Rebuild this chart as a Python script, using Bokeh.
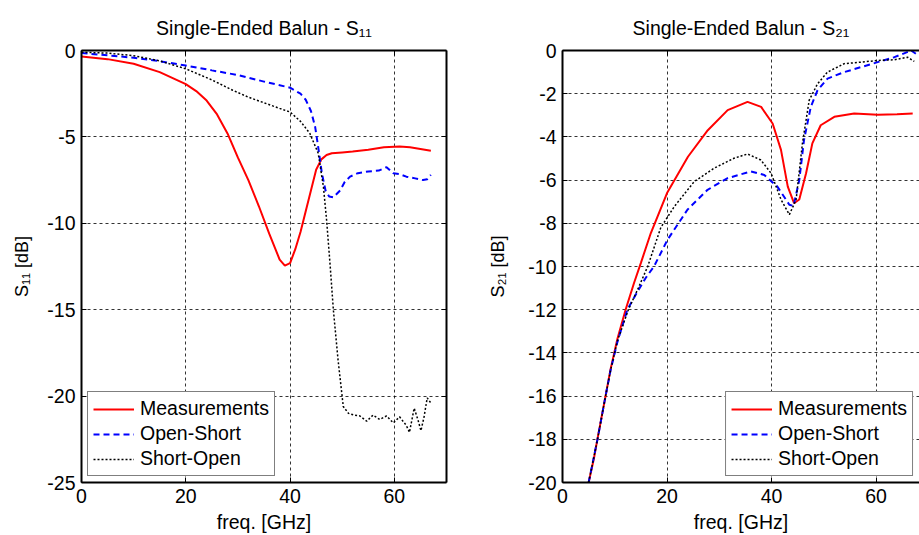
from bokeh.plotting import figure
from bokeh.layouts import row
from bokeh.models import (LinearAxis, Range1d, FixedTicker,
                          CustomJSTickFormatter, Legend, LegendItem)
from bokeh.embed import file_html
from bokeh.resources import INLINE

FONT = "Liberation Sans"

# ---------------- data: S11 ----------------
s11_meas_f = [0, 5, 10, 15, 20, 22, 24, 26, 28, 30, 32, 34, 36, 38, 39, 40, 41, 42, 43, 44,
              45, 46, 47, 48, 50, 52, 55, 58, 61, 63, 65, 67]
s11_meas = [-0.35, -0.5, -0.77, -1.25, -1.95, -2.35, -2.9, -3.7, -4.8, -6.2, -7.5, -9.0, -10.6,
            -12.1, -12.45, -12.3, -11.5, -10.5, -9.3, -8.1, -6.9, -6.3, -6.05, -5.95, -5.9,
            -5.85, -5.75, -5.6, -5.55, -5.6, -5.7, -5.8]

s11_os_f = [0, 5, 10, 15, 20, 25, 30, 35, 40, 42, 43, 44, 44.8, 45.4, 46.1, 46.8, 47.5, 48.3,
            49.6, 50.5, 51.5, 53, 55, 57, 58.5, 59.8, 61, 62.3, 64, 65.5, 66.3, 67]
s11_os = [-0.15, -0.28, -0.42, -0.62, -0.87, -1.15, -1.42, -1.8, -2.15, -2.5, -2.85, -3.5,
          -4.4, -5.6, -7.1, -8.1, -8.45, -8.5, -8.1, -7.6, -7.3, -7.1, -7.0, -6.95, -6.75,
          -7.1, -7.15, -7.3, -7.4, -7.5, -7.45, -7.2]

s11_so_f = [0, 5, 10, 15, 20, 25, 29, 32, 35.5, 38, 40, 42, 43.8, 45.4, 46.4, 47, 47.7, 48.3,
            49.2, 50.2, 51.2, 52.3, 53.4, 54.7, 55.9, 57.2, 58.5, 59.8, 61.0, 62.3, 62.9,
            63.8, 64.5, 65.1, 65.7, 66.3, 67.0]
s11_so = [-0.1, -0.15, -0.3, -0.6, -1.06, -1.7, -2.3, -2.7, -3.08, -3.35, -3.56, -4.1, -4.8,
          -5.95, -7.9, -9.8, -12.5, -15.0, -17.9, -20.6, -21.0, -21.1, -21.15, -21.45, -21.1,
          -21.35, -21.15, -21.55, -21.2, -21.7, -22.1, -20.7, -21.35, -22.0, -21.2, -20.1,
          -20.4]

# ---------------- data: S21 ----------------
s21_meas_f = [5, 6, 6.7, 8, 9.2, 10.5, 12.1, 13.7, 15, 16.9, 20, 24, 27.8, 31.6, 35.4, 38,
              40.2, 41.8, 43.1, 44.3, 45.3, 46.6, 47.8, 49.4, 52, 55.8, 60.3, 64, 67]
s21_meas = [-20, -18.9, -17.97, -16.3, -14.75, -13.36, -11.98, -10.75, -9.83, -8.45, -6.6,
            -4.92, -3.69, -2.76, -2.38, -2.61, -3.38, -4.6, -6.3, -7.07, -6.9, -5.68, -4.3,
            -3.46, -3.07, -2.92, -2.97, -2.95, -2.92]

s21_os_f = [5, 6.7, 8, 9.2, 10.5, 12.4, 14.5, 16, 17.5, 20.1, 23.9, 27.75, 31.6, 36, 38.6,
            41.1, 43.4, 44.2, 45.3, 46.2, 47.5, 48.8, 50.7, 53.9, 57.1, 60.3, 63.5, 66.7, 67.6]
s21_os = [-20, -18.0, -16.3, -14.8, -13.5, -12.0, -11.1, -10.5, -10.0, -8.76, -7.37, -6.45,
          -5.91, -5.6, -5.76, -6.3, -7.14, -7.2, -6.0, -4.15, -2.61, -1.84, -1.3, -1.0,
          -0.77, -0.54, -0.31, 0.0, -0.15]

s21_so_f = [5, 6.7, 8, 9.2, 10.5, 12.6, 14.5, 16.3, 18.8, 21.4, 25.2, 29, 32.8, 35.4, 37.95,
            39.9, 41.8, 43.4, 44.7, 45.9, 47.2, 48.8, 50.7, 53.9, 57.1, 60.3, 63.5, 66, 67.3]
s21_so = [-20, -18.0, -16.3, -14.8, -13.45, -12.0, -11.0, -10.0, -8.2, -7.22, -6.07, -5.45,
          -4.99, -4.79, -5.07, -5.68, -6.9, -7.6, -6.9, -4.3, -2.3, -1.54, -1.0, -0.61, -0.54,
          -0.46, -0.43, -0.31, -0.5]

x_ticks = [0, 20, 40, 60]
s11_y_ticks = [0, -5, -10, -15, -20, -25]
s21_y_ticks = [0, -2, -4, -6, -8, -10, -12, -14, -16, -18, -20]
legend_labels = ["Measurements", "Open-Short", "Short-Open"]
titles = ["Single-Ended Balun - S\u2081\u2081", "Single-Ended Balun - S\u2082\u2081"]
y_labels = ["S\u2081\u2081 [dB]", "S\u2082\u2081 [dB]"]
x_label = "freq. [GHz]"


def style_axis(ax, ticks, show_labels=True, standoff=6):
    ax.ticker = FixedTicker(ticks=ticks)
    ax.axis_line_color = "black"
    ax.axis_line_width = 2
    ax.major_tick_line_color = "black"
    ax.major_tick_line_width = 1
    ax.major_tick_in = 5
    ax.major_tick_out = 0
    ax.minor_tick_line_color = None
    ax.major_label_text_font = FONT
    ax.major_label_text_font_size = "19.5px"
    ax.major_label_text_color = "black"
    ax.major_label_standoff = standoff
    ax.axis_label_text_font = FONT
    ax.axis_label_text_font_style = "normal"
    ax.axis_label_text_color = "black"
    if show_labels:
        ax.formatter = CustomJSTickFormatter(code="return tick.toString()")
    else:
        ax.formatter = CustomJSTickFormatter(code="return ''")


def make_fig(width, mbl, mbr, x_end, y_start, y_ticks, right_axis, title, ylab, ylab_standoff):
    p = figure(width=width, height=535, x_range=Range1d(0, x_end),
               y_range=Range1d(y_start, 0), output_backend="svg", toolbar_location=None,
               min_border_left=mbl, min_border_right=mbr, min_border_top=50,
               min_border_bottom=52, title=title)
    p.title.align = "center"
    p.title.text_font = FONT
    p.title.text_font_size = "19.5px"
    p.title.text_font_style = "normal"
    p.title.text_color = "black"
    p.title.standoff = 24
    p.outline_line_color = None
    p.background_fill_color = "white"
    p.border_fill_color = "white"
    xa = p.xaxis[0]
    ya = p.yaxis[0]
    style_axis(xa, x_ticks, True, 6)
    style_axis(ya, y_ticks, True, 6)
    xa.axis_label = x_label
    xa.axis_label_text_font_size = "19.5px"
    xa.axis_label_standoff = 5
    ya.axis_label = ylab
    ya.axis_label_text_font_size = "18px"
    ya.axis_label_standoff = ylab_standoff
    top = LinearAxis()
    style_axis(top, x_ticks, False)
    p.add_layout(top, "above")
    if right_axis:
        rt = LinearAxis()
        style_axis(rt, y_ticks, False)
        p.add_layout(rt, "right")
    for g, t in ((p.xgrid[0], x_ticks), (p.ygrid[0], y_ticks)):
        g.ticker = FixedTicker(ticks=t)
        g.grid_line_color = "black"
        g.grid_line_alpha = 0.8
        g.grid_line_width = 1
        g.grid_line_dash = "3 3"
    return p


def add_curves(p, series, loc):
    styles = [dict(line_color="#ff0000", line_width=2),
              dict(line_color="#0000ff", line_width=2, line_dash="6 4"),
              dict(line_color="black", line_width=1.5, line_dash="2 2")]
    items = []
    for (xs, ys), st, lab in zip(series, styles, legend_labels):
        r = p.line(xs, ys, **st)
        items.append(LegendItem(label=lab, renderers=[r]))
    leg = Legend(items=items, location=loc, border_line_color="black",
                 border_line_width=1.5, background_fill_color="white",
                 background_fill_alpha=1.0, label_text_font=FONT,
                 label_text_font_size="19.5px", label_text_color="black",
                 glyph_width=41, glyph_height=20, label_standoff=6, padding=5,
                 spacing=2, label_height=21, margin=6)
    p.add_layout(leg)


# ---------- left: S11 ----------
p1 = make_fig(480, 81, 34, 70, -25, s11_y_ticks, True, titles[0], y_labels[0], 12)
add_curves(p1, [(s11_meas_f, s11_meas), (s11_os_f, s11_os), (s11_so_f, s11_so)], "bottom_left")

# ---------- right: S21 ----------
p2 = make_fig(439, 82, 0, 68.3, -20, s21_y_ticks, False, titles[1], y_labels[1], 17)
add_curves(p2, [(s21_meas_f, s21_meas), (s21_os_f, s21_os), (s21_so_f, s21_so)], "bottom_right")

layout = row(p1, p2)
open("out.html", "w").write(file_html(layout, INLINE))
